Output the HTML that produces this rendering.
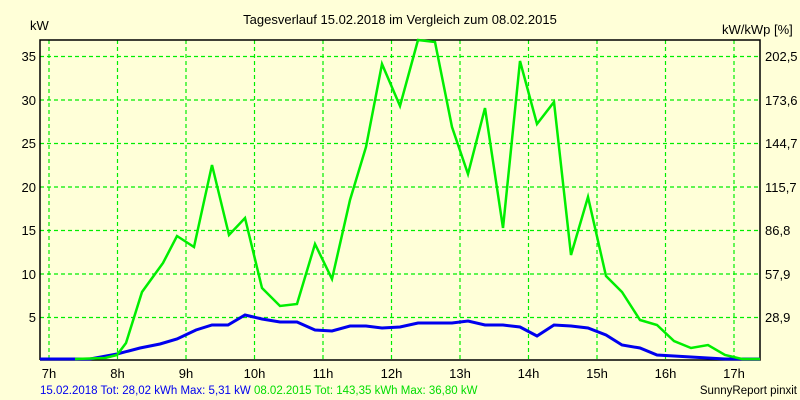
<!DOCTYPE html>
<html><head><style>
body{margin:0;background:#ffffd8;}
svg{display:block;font-family:"Liberation Sans",sans-serif;font-size:13px;}
</style></head><body>
<svg width="800" height="400" xmlns="http://www.w3.org/2000/svg">
<rect width="800" height="400" fill="#ffffd8"/>
<text x="400" y="24" text-anchor="middle" font-size="13">Tagesverlauf 15.02.2018 im Vergleich zum 08.02.2015</text>
<text x="30" y="30">kW</text>
<text x="722" y="34">kW/kWp [%]</text>
<g stroke="#00ee00" stroke-width="1.2" stroke-dasharray="4,3">
<line x1="49" y1="40" x2="49" y2="360"/><line x1="117.5" y1="40" x2="117.5" y2="360"/><line x1="186" y1="40" x2="186" y2="360"/><line x1="254.5" y1="40" x2="254.5" y2="360"/><line x1="323" y1="40" x2="323" y2="360"/><line x1="391.5" y1="40" x2="391.5" y2="360"/><line x1="460" y1="40" x2="460" y2="360"/><line x1="528.5" y1="40" x2="528.5" y2="360"/><line x1="597" y1="40" x2="597" y2="360"/><line x1="665.5" y1="40" x2="665.5" y2="360"/><line x1="734" y1="40" x2="734" y2="360"/>
<line x1="40" y1="56.5" x2="760" y2="56.5"/><line x1="40" y1="100" x2="760" y2="100"/><line x1="40" y1="143.5" x2="760" y2="143.5"/><line x1="40" y1="187" x2="760" y2="187"/><line x1="40" y1="230.5" x2="760" y2="230.5"/><line x1="40" y1="274" x2="760" y2="274"/><line x1="40" y1="317.5" x2="760" y2="317.5"/>
</g>
<polyline fill="none" stroke="#000" stroke-width="1.5" points="40,360 40,40 760,40 760,360 40,360"/>
<g text-anchor="end"><text x="36" y="61">35</text><text x="36" y="105">30</text><text x="36" y="148">25</text><text x="36" y="192">20</text><text x="36" y="235">15</text><text x="36" y="279">10</text><text x="36" y="322">5</text></g>
<g><text x="765" y="61">202,5</text><text x="765" y="105">173,6</text><text x="765" y="148">144,7</text><text x="765" y="192">115,7</text><text x="765" y="235">86,8</text><text x="765" y="279">57,9</text><text x="765" y="322">28,9</text></g>
<g text-anchor="middle"><text x="49" y="378">7h</text><text x="117.5" y="378">8h</text><text x="186" y="378">9h</text><text x="254.5" y="378">10h</text><text x="323" y="378">11h</text><text x="391.5" y="378">12h</text><text x="460" y="378">13h</text><text x="528.5" y="378">14h</text><text x="597" y="378">15h</text><text x="665.5" y="378">16h</text><text x="734" y="378">17h</text></g>
<polyline fill="none" stroke="#0000ee" stroke-width="3" points="40,359 90,359 117,354 140,348 160,344 177,339 196,330 212,325 228,325 245,315 262,319 280,322 297,322 315,330 332,331 350,326 366,326 382,328 400,327 418,323 435,323 452,323 468,321 485,325 503,325 520,327 537,336 554,325 571,326 588,328 606,335 622,345 640,348 657,355 674,356 691,357 708,358 725,359 760,359"/>
<polyline fill="none" stroke="#00ee00" stroke-width="2.5" points="75,359 105,358 117,355 126,343 142,292 163,263 177,236 194,247 212,165 229,235 245,218 262,288 280,306 297,304 315,244 332,279 350,200 366,147 382,64 400,106 418,40 435,42 452,127 468,174 485,108 503,228 520,61 537,124 554,102 571,255 588,197 606,276 622,292 640,320 657,325 674,341 691,348 708,345 725,355 742,359 760,359"/>
<text x="40" y="394" font-size="11.5"><tspan fill="#0000ee">15.02.2018 Tot: 28,02 kWh Max: 5,31 kW </tspan><tspan fill="#00dd00">08.02.2015 Tot: 143,35 kWh Max: 36,80 kW</tspan></text>
<text x="797" y="394" text-anchor="end" font-size="11.5">SunnyReport pinxit</text>
</svg>
</body></html>
